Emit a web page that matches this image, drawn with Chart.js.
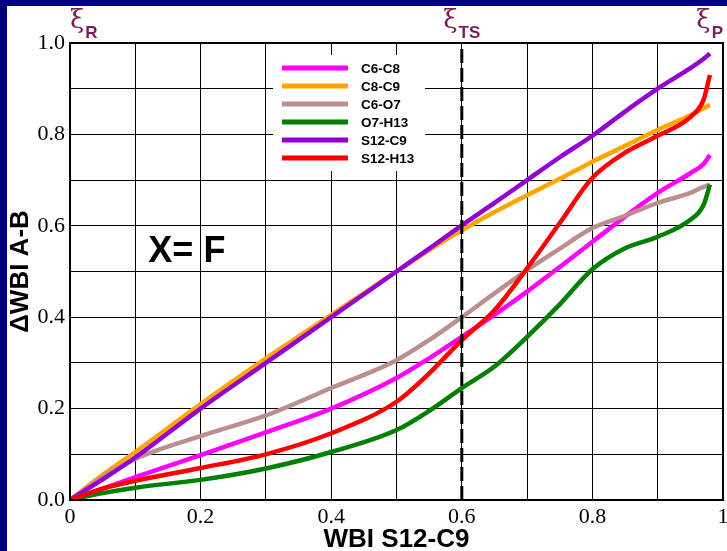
<!DOCTYPE html>
<html>
<head>
<meta charset="utf-8">
<script src="https://cdn.jsdelivr.net/npm/chart.js@4/dist/chart.umd.min.js"></script>
<style>
  html, body { margin: 0; padding: 0; background: #000080; width: 727px; height: 551px; overflow: hidden; }
  #wrap { position: absolute; left: 7px; top: 6px; width: 720px; height: 545px; background: #ffffff; }
  canvas { display: block; }
</style>
</head>
<body>
<div id="wrap"><canvas id="c" width="720" height="545" style="width:720px;height:545px"></canvas></div>
<script>
// Reaction coordinate samples (WBI S12-C9)
const xValues = [0, 0.05, 0.1, 0.2, 0.3, 0.4, 0.5, 0.55, 0.6, 0.65, 0.7, 0.75, 0.8, 0.85, 0.9, 0.95, 0.97, 0.98];

// Normalised bond-index change for each bond
const c6c8   = [0, 0.025, 0.050, 0.098, 0.148, 0.200, 0.267, 0.310, 0.357, 0.405, 0.456, 0.510, 0.565, 0.620, 0.672, 0.715, 0.735, 0.755];
const c8c9   = [0, 0.055, 0.105, 0.210, 0.310, 0.405, 0.500, 0.547, 0.590, 0.630, 0.667, 0.703, 0.740, 0.775, 0.810, 0.842, 0.857, 0.865];
const c6o7   = [0, 0.050, 0.090, 0.140, 0.185, 0.245, 0.306, 0.350, 0.400, 0.452, 0.503, 0.550, 0.595, 0.622, 0.650, 0.672, 0.685, 0.690];
const o7h13  = [0, 0.015, 0.027, 0.044, 0.069, 0.105, 0.153, 0.195, 0.245, 0.292, 0.357, 0.428, 0.505, 0.551, 0.576, 0.613, 0.645, 0.690];
const s12c9  = [0, 0.045, 0.093, 0.200, 0.300, 0.400, 0.500, 0.550, 0.601, 0.650, 0.700, 0.750, 0.797, 0.850, 0.900, 0.945, 0.965, 0.977];
const s12h13 = [0, 0.025, 0.042, 0.070, 0.100, 0.146, 0.215, 0.277, 0.350, 0.415, 0.507, 0.606, 0.705, 0.760, 0.797, 0.838, 0.875, 0.930];

const seriesNames  = ['C6-C8', 'C8-C9', 'C6-O7', 'O7-H13', 'S12-C9', 'S12-H13'];
const seriesValues = [c6c8, c8c9, c6o7, o7h13, s12c9, s12h13];
const seriesColors = ['#ff00ff', '#ffa500', '#bc8f8f', '#008000', '#9400d3', '#ff0000'];

// Transition-state position and stationary-point labels
const tsPosition = 0.6;
const stationaryLabels = [
  { x: 0,   sub: 'R',  align: 'left' },
  { x: 0.6, sub: 'TS', align: 'center' },
  { x: 1,   sub: 'P',  align: 'right' }
];

const xTickLabels = ['0', '0.2', '0.4', '0.6', '0.8', '1'];
const yTickLabels = ['0.0', '0.2', '0.4', '0.6', '0.8', '1.0'];

const substituentText = 'X= F';
const xTitle = 'WBI S12-C9';
const yTitle = '\u0394WBI A-B';

const datasets = seriesValues.map((vals, i) => ({
  label: seriesNames[i],
  data: xValues.map((x, j) => ({ x: x, y: vals[j] })),
  borderColor: seriesColors[i],
  borderWidth: 4.5,
  pointRadius: 0,
  fill: false,
  cubicInterpolationMode: 'monotone',
  order: seriesValues.length - i
}));

datasets.push({
  label: 'TS',
  data: [{ x: tsPosition, y: 0 }, { x: tsPosition, y: 1 }],
  borderColor: '#000000',
  borderWidth: 3,
  borderDash: [14, 5],
  pointRadius: 0,
  fill: false,
  order: 0
});

const serif = "'Liberation Serif', 'Times New Roman', serif";
const sans = "'Liberation Sans', Arial, Helvetica, sans-serif";
const xiFont = "'DejaVu Serif', serif";

const decorations = {
  id: 'decorations',
  afterDraw(chart) {
    const ctx = chart.ctx;
    const area = chart.chartArea;
    const xs = chart.scales.x, ys = chart.scales.y;
    ctx.save();

    // plot frame
    ctx.strokeStyle = '#000';
    ctx.lineWidth = 2;
    ctx.strokeRect(area.left, area.top, area.right - area.left, area.bottom - area.top);

    // legend box
    const lx = 266, ly = 49;
    ctx.fillStyle = '#fff';
    ctx.fillRect(lx, ly, 152, 116);
    ctx.font = 'bold 13.5px ' + sans;
    ctx.textBaseline = 'middle';
    ctx.textAlign = 'left';
    seriesNames.forEach((name, i) => {
      const y = ly + 13 + i * 18;
      ctx.strokeStyle = seriesColors[i];
      ctx.lineWidth = 5;
      ctx.beginPath();
      ctx.moveTo(lx + 9, y);
      ctx.lineTo(lx + 75, y);
      ctx.stroke();
      ctx.fillStyle = '#000';
      ctx.fillText(name, lx + 88, y + 1);
    });

    // substituent label
    ctx.font = 'bold 36px ' + sans;
    ctx.fillStyle = '#000';
    ctx.textBaseline = 'alphabetic';
    ctx.textAlign = 'left';
    ctx.fillText(substituentText, xs.getPixelForValue(0.12), ys.getPixelForValue(0.52));

    // stationary point labels above the frame
    ctx.fillStyle = '#7b1b5f';
    stationaryLabels.forEach(lab => {
      const px = xs.getPixelForValue(lab.x);
      ctx.font = '26px ' + xiFont;
      const wXi = ctx.measureText('\u03be').width;
      ctx.font = 'bold 17px ' + sans;
      const wSub = ctx.measureText(lab.sub).width;
      const total = wXi + 1 + wSub;
      let left = px;
      if (lab.align === 'center') left = px - total / 2;
      if (lab.align === 'right') left = px - total;
      ctx.textAlign = 'left';
      ctx.font = '26px ' + xiFont;
      ctx.fillText('\u03be', left, 22);
      ctx.font = 'bold 17px ' + sans;
      ctx.fillText(lab.sub, left + wXi + 1, 32);
    });
    ctx.restore();
  }
};

new Chart(document.getElementById('c'), {
  type: 'line',
  data: { datasets: datasets },
  options: {
    responsive: false,
    animation: false,
    devicePixelRatio: 1,
    layout: { padding: { top: 37, right: 4, left: 0, bottom: 0 } },
    plugins: { legend: { display: false }, tooltip: { enabled: false } },
    scales: {
      x: {
        type: 'linear',
        min: 0, max: 1,
        grid: { color: '#000', lineWidth: 1, drawTicks: false },
        border: { color: '#000', width: 2 },
        ticks: {
          stepSize: 0.1,
          padding: 4,
          color: '#000',
          font: { family: serif, size: 22 },
          maxRotation: 0,
          autoSkip: false,
          callback: v => { const k = Math.round(v * 10); return k % 2 === 0 ? xTickLabels[k / 2] : ''; }
        },
        title: {
          display: true, text: xTitle, color: '#000',
          font: { family: sans, size: 26, weight: 'bold', lineHeight: 1 },
          padding: { top: 0, bottom: -2 }
        },
        afterFit: s => { s.height = 51; s.paddingLeft = 0; s.paddingRight = 0; }
      },
      y: {
        type: 'linear',
        min: 0, max: 1,
        grid: { color: '#000', lineWidth: 1, drawTicks: false },
        border: { color: '#000', width: 2 },
        ticks: {
          stepSize: 0.1,
          padding: 5,
          color: '#000',
          font: { family: serif, size: 22 },
          autoSkip: false,
          callback: v => { const k = Math.round(v * 10); return k % 2 === 0 ? yTickLabels[k / 2] : ''; }
        },
        title: {
          display: true, text: yTitle, color: '#000',
          font: { family: sans, size: 26, weight: 'bold', lineHeight: 1 },
          padding: { top: 1, bottom: 0 }
        },
        afterFit: s => { s.width = 63; s.paddingTop = 0; s.paddingBottom = 0; }
      }
    }
  },
  plugins: [decorations]
});
</script>
</body>
</html>
